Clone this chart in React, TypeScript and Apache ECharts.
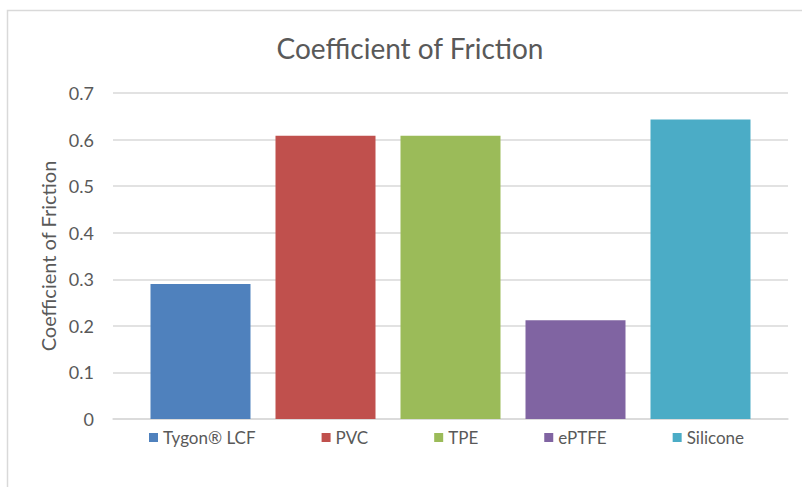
import React, { useEffect, useRef } from "react";
import * as echarts from "echarts";

const seriesNames = ["Tygon® LCF", "PVC", "TPE", "ePTFE", "Silicone"];
const values = [0.29, 0.608, 0.608, 0.212, 0.643];
const colors = ["#4F81BD", "#C0504D", "#9BBB59", "#8064A2", "#4BACC6"];
const categories = [""];
const titleText = "Coefficient of Friction";
const yAxisName = "Coefficient of Friction";

const FONT = "Lato, 'Open Sans', sans-serif";
const TEXT = "#595959";
const GRID = "#d9d9d9";

export default function App() {
  const ref = useRef<HTMLDivElement>(null);
  useEffect(() => {
    if (!ref.current) return;
    const chart = echarts.init(ref.current, null, { renderer: "svg" });
    chart.setOption({
      animation: false,
      backgroundColor: "#ffffff",
      textStyle: { fontFamily: FONT },
      graphic: [
        {
          type: "rect",
          shape: { x: 7.5, y: 10.5, width: 900, height: 600 },
          style: { fill: "none", stroke: GRID, lineWidth: 1.5 },
          silent: true,
          z: -1,
        },
        {
          type: "text",
          x: 410,
          y: 48,
          style: {
            text: titleText,
            fontFamily: FONT,
            fontSize: 28,
            fill: TEXT,
            textAlign: "center",
            textVerticalAlign: "middle",
          },
        },
      ],
      legend: {
        left: 144,
        top: 424,
        itemWidth: 9,
        itemHeight: 9,
        itemGap: 66,
        itemTextGap: 8,
        icon: "rect",
        textStyle: { color: TEXT, fontSize: 17, fontFamily: FONT },
        data: seriesNames,
      },
      grid: { left: 113, right: 14, top: 93, bottom: 68 },
      xAxis: {
        type: "category",
        data: categories,
        axisLine: { show: true, lineStyle: { color: GRID, width: 1.5 } },
        axisTick: { show: false },
        axisLabel: { show: false },
      },
      yAxis: {
        type: "value",
        min: 0,
        max: 0.7,
        interval: 0.1,
        name: yAxisName,
        nameLocation: "middle",
        nameGap: 53,
        nameTextStyle: { color: TEXT, fontSize: 20, fontFamily: FONT },
        axisLine: { show: false },
        axisTick: { show: false },
        axisLabel: { color: TEXT, fontSize: 18, margin: 19, fontFamily: FONT },
        splitLine: { lineStyle: { color: GRID, width: 1.5 } },
      },
      series: seriesNames.map((name, i) => ({
        name,
        type: "bar",
        data: [values[i]],
        barWidth: 100,
        barGap: "25%",
        itemStyle: { color: colors[i] },
      })),
    });
    return () => chart.dispose();
  }, []);
  return (
    <div
      ref={ref}
      style={{ position: "absolute", left: 0, top: 0, width: 802, height: 487 }}
    />
  );
}
